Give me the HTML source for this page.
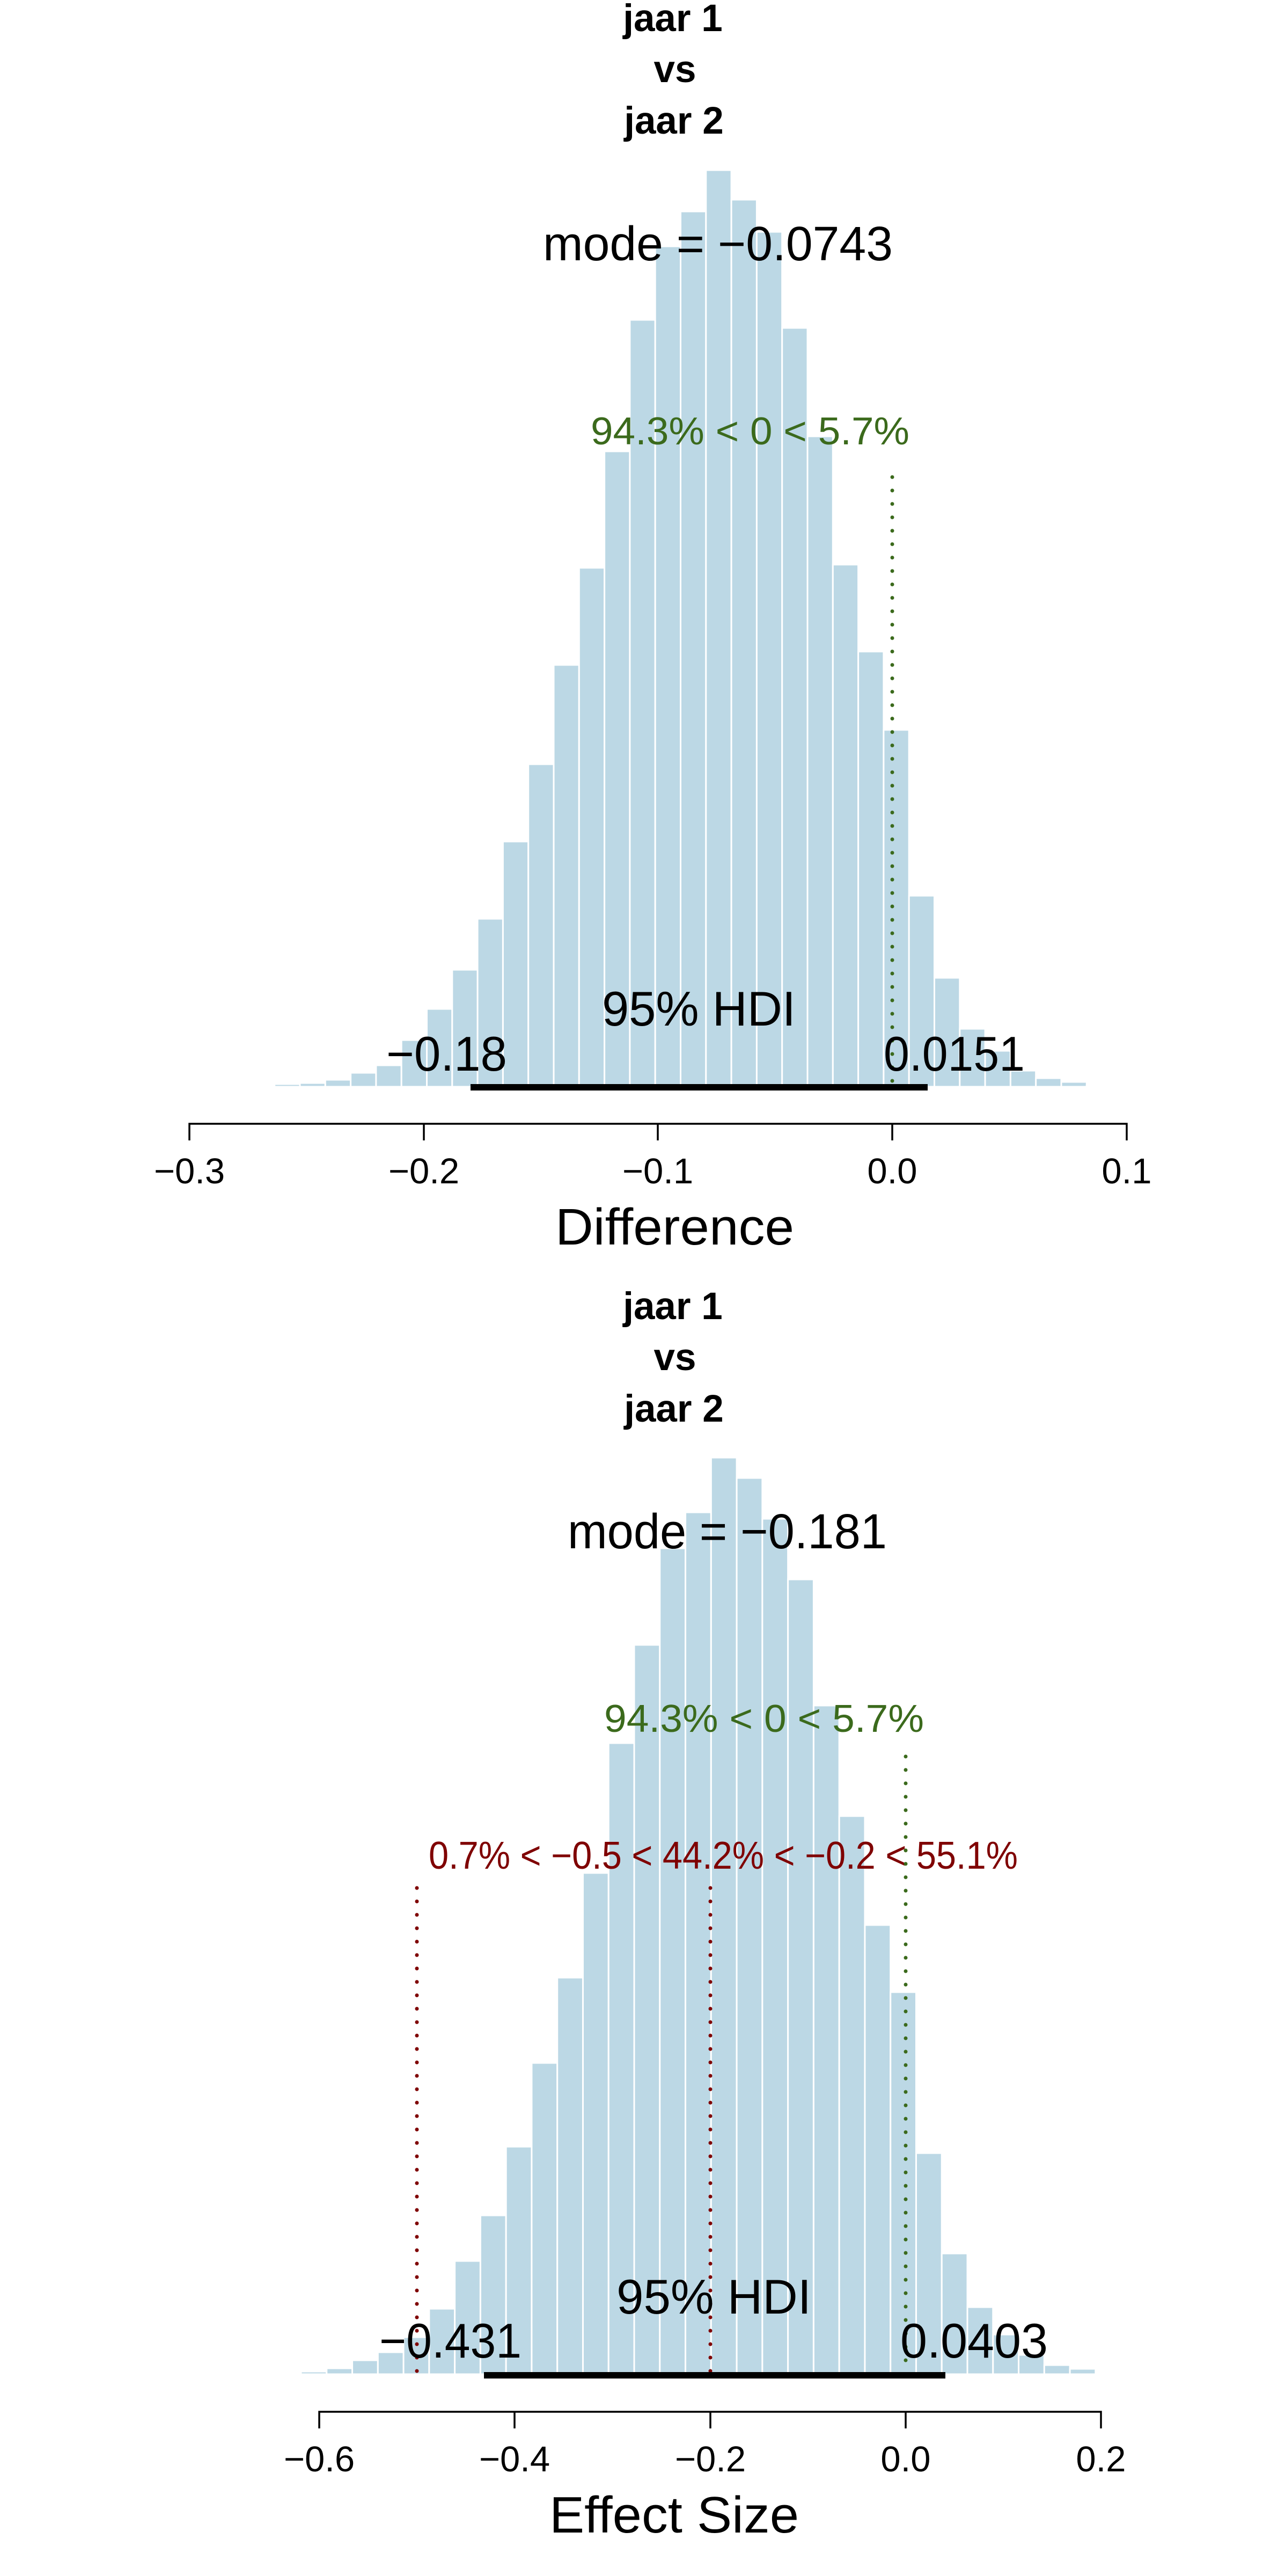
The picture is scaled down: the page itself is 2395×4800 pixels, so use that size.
<!DOCTYPE html>
<html><head><meta charset="utf-8">
<style>
html,body{margin:0;padding:0;background:#fff;}
svg{display:block;}
text{font-family:"Liberation Sans",Arial,sans-serif;}
</style></head>
<body>
<svg id="s" width="2395" height="4800" viewBox="0 0 2395 4800" xmlns="http://www.w3.org/2000/svg">
<rect width="2395" height="4800" fill="#fff"/>
<g id="bars"></g>

<!-- ===== Plot 1 ===== -->
<g font-weight="bold" font-size="71" text-anchor="middle">
<text x="1254" y="58">jaar 1</text>
<text x="1258" y="153">vs</text>
<text x="1256" y="249">jaar 2</text>
</g>
<text x="1012" y="485" font-size="90" textLength="652" lengthAdjust="spacingAndGlyphs">mode = −0.0743</text>
<text x="1101" y="828" font-size="72" fill="#3b6a1c" textLength="594" lengthAdjust="spacingAndGlyphs">94.3% &lt; 0 &lt; 5.7%</text>
<line x1="1663" y1="889" x2="1663" y2="2022" stroke="#3b6a1c" stroke-width="7" stroke-linecap="round" stroke-dasharray="0 25"/>
<line x1="877" y1="2026" x2="1729" y2="2026" stroke="#000" stroke-width="12"/>
<text x="1122" y="1911" font-size="91" textLength="361" lengthAdjust="spacingAndGlyphs">95% HDI</text>
<text x="720" y="1995" font-size="91" textLength="225" lengthAdjust="spacingAndGlyphs">−0.18</text>
<text x="1647" y="1995" font-size="91" textLength="263" lengthAdjust="spacingAndGlyphs">0.0151</text>
<g stroke="#000" stroke-width="3.5" fill="none">
<path d="M353 2125V2094H2100V2125M790 2094V2125M1226 2094V2125M1663 2094V2125"/>
</g>
<g font-size="67" text-anchor="middle">
<text x="353" y="2205">−0.3</text>
<text x="790" y="2205">−0.2</text>
<text x="1226" y="2205">−0.1</text>
<text x="1663" y="2205">0.0</text>
<text x="2100" y="2205">0.1</text>
</g>
<text x="1035" y="2319" font-size="96" textLength="445" lengthAdjust="spacingAndGlyphs">Difference</text>

<!-- ===== Plot 2 ===== -->
<g font-weight="bold" font-size="71" text-anchor="middle">
<text x="1254" y="2458">jaar 1</text>
<text x="1258" y="2553">vs</text>
<text x="1256" y="2649">jaar 2</text>
</g>
<text x="1058" y="2885" font-size="92" textLength="595" lengthAdjust="spacingAndGlyphs">mode = −0.181</text>
<text x="1126" y="3227" font-size="72" fill="#3b6a1c" textLength="596" lengthAdjust="spacingAndGlyphs">94.3% &lt; 0 &lt; 5.7%</text>
<text x="799" y="3482" font-size="72" fill="#7f0000" textLength="1098" lengthAdjust="spacingAndGlyphs">0.7% &lt; −0.5 &lt; 44.2% &lt; −0.2 &lt; 55.1%</text>
<line x1="1688" y1="3273" x2="1688" y2="4422" stroke="#3b6a1c" stroke-width="7" stroke-linecap="round" stroke-dasharray="0 25"/>
<line x1="777" y1="3518" x2="777" y2="4422" stroke="#7f0000" stroke-width="7" stroke-linecap="round" stroke-dasharray="0 25"/>
<line x1="1324" y1="3518" x2="1324" y2="4422" stroke="#7f0000" stroke-width="7" stroke-linecap="round" stroke-dasharray="0 25"/>
<line x1="902" y1="4426" x2="1762" y2="4426" stroke="#000" stroke-width="12"/>
<text x="1149" y="4311" font-size="91" textLength="363" lengthAdjust="spacingAndGlyphs">95% HDI</text>
<text x="707" y="4393" font-size="91" textLength="265" lengthAdjust="spacingAndGlyphs">−0.431</text>
<text x="1678" y="4393" font-size="91" textLength="275" lengthAdjust="spacingAndGlyphs">0.0403</text>
<g stroke="#000" stroke-width="3.5" fill="none">
<path d="M595 4525V4494H2052V4525M959 4494V4525M1324 4494V4525M1688 4494V4525"/>
</g>
<g font-size="67" text-anchor="middle">
<text x="595" y="4605">−0.6</text>
<text x="959" y="4605">−0.4</text>
<text x="1324" y="4605">−0.2</text>
<text x="1688" y="4605">0.0</text>
<text x="2052" y="4605">0.2</text>
</g>
<text x="1024" y="4719" font-size="96" textLength="465" lengthAdjust="spacingAndGlyphs">Effect Size</text>
</svg>
<script>
(function(){
var g=document.getElementById('bars'),ns='http://www.w3.org/2000/svg';
function draw(x0,w,base,tops){
  for(var i=0;i<tops.length;i++){
    var r=document.createElementNS(ns,'rect');
    r.setAttribute('x',x0+i*w);r.setAttribute('y',tops[i]);
    r.setAttribute('width',w);r.setAttribute('height',Math.max(0.5,base-tops[i]));
    r.setAttribute('fill','#bcd8e5');r.setAttribute('stroke','#fff');r.setAttribute('stroke-width','3');
    g.appendChild(r);
  }
}
draw(511.7,47.3,2025,[2020,2018,2012,1999,1985,1938,1880,1807,1712,1568,1424,1239,1058,841,596,459,394,317,372,432,611,813,1052,1214,1360,1669,1822,1917,1958,1995,2009,2016,2023]);
draw(561,47.77,4424,[4419,4413,4398,4383,4355,4302,4213,4128,4000,3844,3685,3490,3248,3065,2885,2818,2716,2754,2830,2943,3178,3384,3587,3712,4012,4199,4299,4350,4388,4407,4414]);
})();
</script>
</body></html>
